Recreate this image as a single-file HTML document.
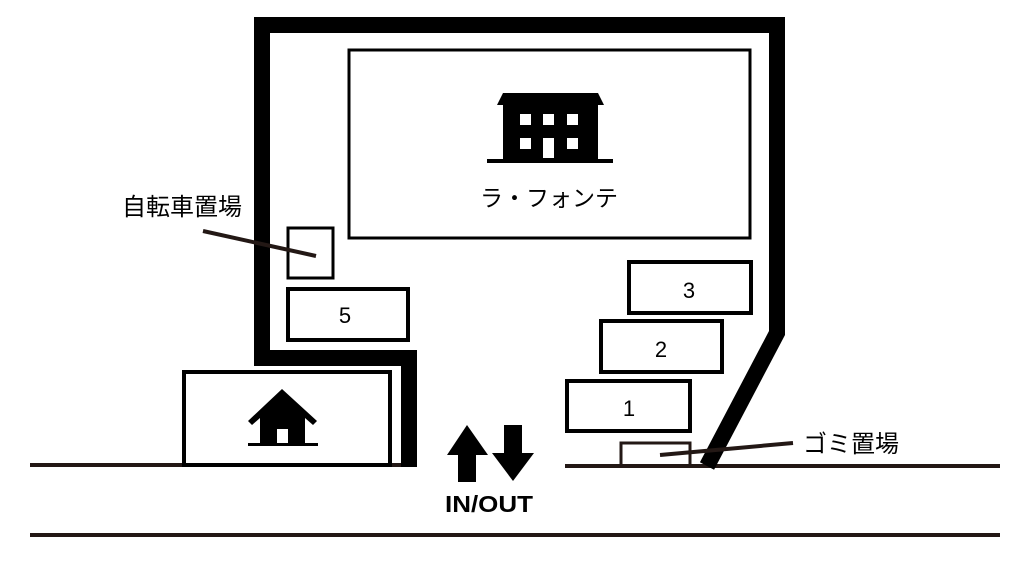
<!DOCTYPE html>
<html><head><meta charset="utf-8"><style>html,body{margin:0;padding:0;background:#fff}svg{display:block}</style></head>
<body>
<svg width="1024" height="576" viewBox="0 0 1024 576" xmlns="http://www.w3.org/2000/svg" font-family="'Liberation Sans','Noto Sans CJK JP',sans-serif">
<rect width="1024" height="576" fill="#fff"/>
<!-- roads -->
<line x1="30" y1="465" x2="416" y2="465" stroke="#231815" stroke-width="4"/>
<line x1="565" y1="466" x2="1000" y2="466" stroke="#231815" stroke-width="4"/>
<line x1="30" y1="535" x2="1000" y2="535" stroke="#231815" stroke-width="4"/>
<!-- boundary -->
<polyline points="409,467 409,358 262,358 262,25 777,25 777,333 707,466" fill="none" stroke="#000" stroke-width="16" stroke-linejoin="miter"/>
<!-- building -->
<rect x="349" y="50" width="401" height="188" fill="none" stroke="#000" stroke-width="3"/>
<g fill="#000">
<polygon points="497,105 503,93 598,93 604,105"/>
<rect x="503" y="104" width="95" height="56"/>
<rect x="487" y="159" width="126" height="4"/>
</g>
<g fill="#fff">
<rect x="520" y="114" width="11" height="11"/><rect x="543" y="114" width="11" height="11"/><rect x="567" y="114" width="11" height="11"/>
<rect x="520" y="138" width="11" height="11"/><rect x="543" y="138" width="11" height="20"/><rect x="567" y="138" width="11" height="11"/>
</g>
<text x="549" y="206" font-size="23" text-anchor="middle">ラ・フォンテ</text>
<!-- bike -->
<rect x="288" y="228" width="45" height="50" fill="none" stroke="#000" stroke-width="3"/>
<line x1="203" y1="231" x2="316" y2="256" stroke="#231815" stroke-width="4"/>
<text x="122" y="215" font-size="24">自転車置場</text>
<!-- parking -->
<rect x="288" y="289" width="120" height="51" fill="none" stroke="#000" stroke-width="4"/>
<text x="345" y="323" font-size="22" text-anchor="middle">5</text>
<rect x="629" y="262" width="122" height="51" fill="none" stroke="#000" stroke-width="4"/>
<text x="689" y="298" font-size="22" text-anchor="middle">3</text>
<rect x="601" y="321" width="121" height="51" fill="none" stroke="#000" stroke-width="4"/>
<text x="661" y="357" font-size="22" text-anchor="middle">2</text>
<rect x="567" y="381" width="123" height="50" fill="none" stroke="#000" stroke-width="4"/>
<text x="629" y="416" font-size="22" text-anchor="middle">1</text>
<!-- gomi -->
<polyline points="621,465 621,443 690,443 690,465" fill="none" stroke="#231815" stroke-width="3"/>
<line x1="660" y1="455" x2="793" y2="443" stroke="#231815" stroke-width="4"/>
<text x="803" y="452" font-size="24">ゴミ置場</text>
<!-- house -->
<rect x="184" y="372" width="206" height="93" fill="none" stroke="#000" stroke-width="4"/>
<g fill="#000">
<polygon points="282,389 317,421 313,425 305,418 305,443 260,443 260,418 252,425 248,421"/>
<rect x="248" y="443" width="70" height="3"/>
</g>
<rect x="277" y="429" width="11" height="14" fill="#fff"/>
<!-- arrows -->
<polygon points="467,425 488,455 476,455 476,482 458,482 458,455 447,455" fill="#000"/>
<polygon points="504,425 522,425 522,453 534,453 513,481 492,453 504,453" fill="#000"/>
<text x="445" y="512" font-size="23" font-weight="bold" textLength="88" lengthAdjust="spacingAndGlyphs">IN/OUT</text>
</svg>
</body></html>
